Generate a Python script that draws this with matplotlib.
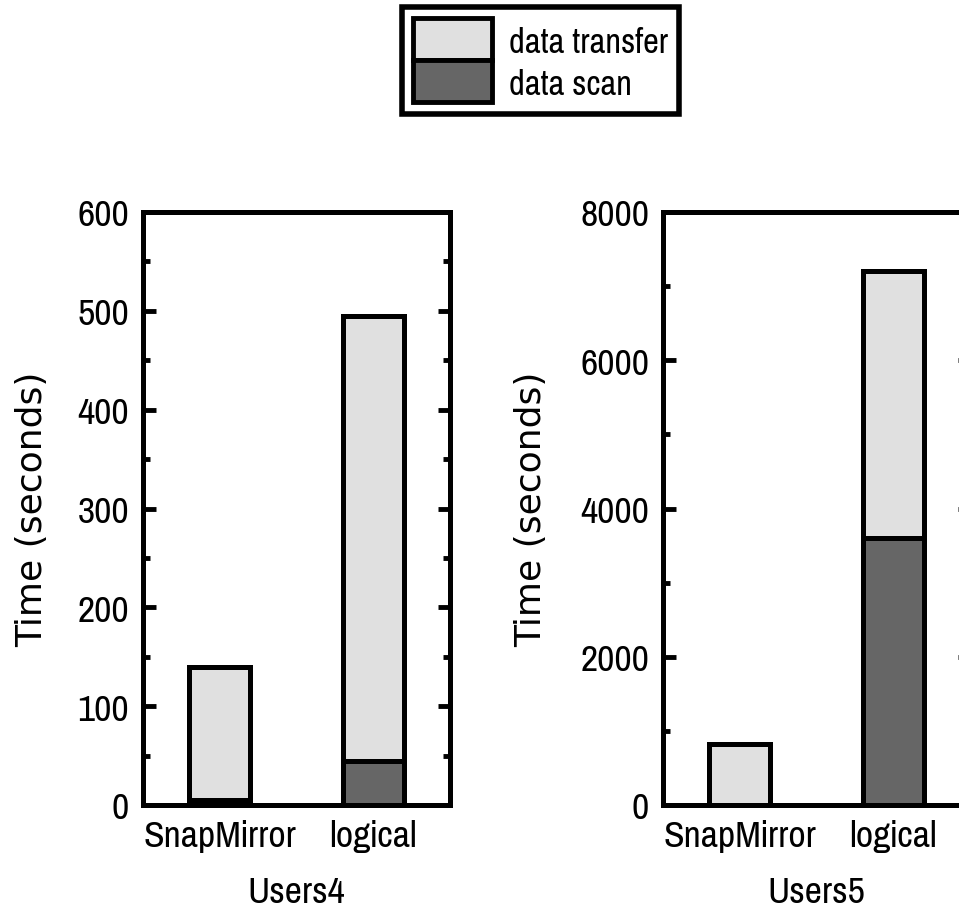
import numpy as np
import matplotlib.pyplot as plt
from matplotlib.patches import Patch
from matplotlib.ticker import MultipleLocator

# narrow font for horizontal text, the rotated label looks wider in the original
plt.rcParams['font.family'] = ['Pragati Narrow', 'Liberation Sans', 'DejaVu Sans']

#---- data ----
methods = ['SnapMirror', 'logical']
users4_scan = [5, 45]
users4_transfer = [135, 450]
users5_scan = [0, 3600]
users5_transfer = [820, 3600]

light = '#e0e0e0'
dark = '#666666'
lw = 3.6
fs = 29.5

fig = plt.figure(figsize=(9.59, 9.12), dpi=100)

# axes placed in pixel coords (left, bottom from the figure edges)
W, H = 959.0, 912.0
ax1 = fig.add_axes([143 / W, (H - 806) / H, 307 / W, 593 / H])
ax2 = fig.add_axes([663 / W, (H - 806) / H, 307 / W, 593 / H])


def draw(ax, scan, transfer, ymax, major, minor, xlabel, ylab_x):
    x = np.arange(len(methods))
    ax.bar(x, scan, 0.4, color=dark, edgecolor='black', linewidth=lw)
    ax.bar(x, transfer, 0.4, bottom=scan, color=light, edgecolor='black', linewidth=lw)
    ax.set_xlim(-0.5, 1.5)
    ax.set_ylim(0, ymax)
    ax.set_xticks(x)
    ax.set_xticklabels(methods)
    ax.yaxis.set_major_locator(MultipleLocator(major))
    ax.yaxis.set_minor_locator(MultipleLocator(minor))
    ax.tick_params(axis='y', which='both', direction='in', right=True,
                   labelsize=fs, width=3.5, pad=10)
    ax.tick_params(axis='y', which='major', length=9)
    ax.tick_params(axis='y', which='minor', length=5)
    ax.tick_params(axis='x', length=0, labelsize=fs, pad=10)
    for s in ax.spines.values():
        s.set_linewidth(lw)
    ax.set_ylabel('Time (seconds)', fontsize=26, family='DejaVu Sans')
    ax.yaxis.set_label_coords(ylab_x, 0.50)
    ax.set_xlabel(xlabel, fontsize=fs, labelpad=17)


draw(ax1, users4_scan, users4_transfer, 600, 100, 50, 'Users4', -0.305)
draw(ax2, users5_scan, users5_transfer, 8000, 2000, 1000, 'Users5', -0.375)

handles = [Patch(facecolor=light, edgecolor='black', linewidth=3.5),
           Patch(facecolor=dark, edgecolor='black', linewidth=3.5)]
leg = fig.legend(handles, ['data transfer', 'data scan'], loc='upper left',
                 bbox_to_anchor=(402 / W, 1 - 8 / H), fontsize=27,
                 frameon=True, fancybox=False, edgecolor='black', framealpha=1,
                 handlelength=2.1, handleheight=1.35, labelspacing=0.0,
                 handletextpad=0.45, borderpad=0.3, borderaxespad=0)
leg.get_frame().set_linewidth(4)

fig.savefig('out.png', dpi=100)
